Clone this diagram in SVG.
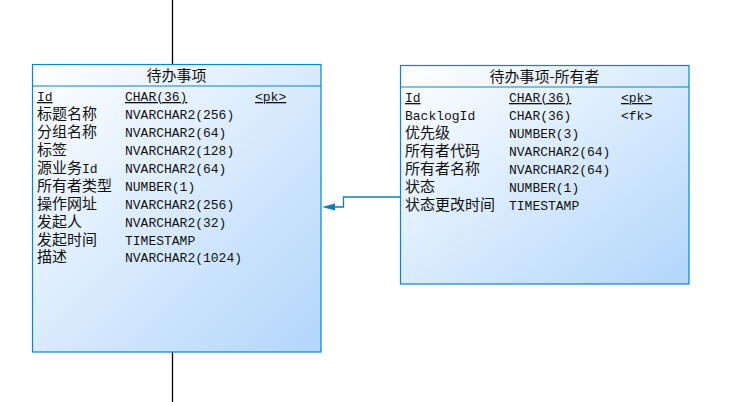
<svg xmlns="http://www.w3.org/2000/svg" width="752" height="402" viewBox="0 0 752 402">
<style>
.box{stroke:#0a84cc;stroke-width:1.2;fill:url(#g)}
.sep{stroke:#0a84cc;stroke-width:1.2}
text{font-family:"Liberation Mono","Noto Sans CJK SC",monospace;font-size:13px;fill:#111}
.cj{font-family:"Noto Sans CJK SC","Liberation Mono",sans-serif;font-size:15px}
.hd{font-family:"Noto Sans CJK SC","Liberation Mono",sans-serif;font-size:15px;text-anchor:middle}
.u{text-decoration:underline}
.conn{stroke:#0a7fc0;stroke-width:1.3;fill:none}
.ext{stroke:#000;stroke-width:1.3}
</style>
<defs>
<linearGradient id="g" x1="0" y1="0" x2="1" y2="1">
<stop offset="0" stop-color="#ffffff"/>
<stop offset="1" stop-color="#b2d6fb"/>
</linearGradient>
</defs>
<g id="connectors">
<line class="ext" x1="172.5" y1="0" x2="172.5" y2="64"/>
<line class="ext" x1="172.5" y1="352" x2="172.5" y2="402"/>
<polyline class="conn" points="400,197 343.5,197 343.5,207 334,207"/>
<polygon points="322,207 335,203.5 335,210.5" fill="#0a7fc0"/>
</g>
<g id="backlog">
<rect class="box" x="32.5" y="64.5" width="288.5" height="287.5"/>
<line class="sep" x1="32.5" y1="86" x2="321" y2="86"/>
<text class="hd" x="176.5" y="81">待办事项</text>
<text x="37" y="101" class="u">Id</text><text x="125" y="101" class="u">CHAR(36)</text><text x="255" y="101" class="u">&lt;pk&gt;</text>
<text class="cj" x="37" y="119">标题名称</text><text x="125" y="119">NVARCHAR2(256)</text>
<text class="cj" x="37" y="137">分组名称</text><text x="125" y="137">NVARCHAR2(64)</text>
<text class="cj" x="37" y="155">标签</text><text x="125" y="155">NVARCHAR2(128)</text>
<text class="cj" x="37" y="173">源业务<tspan style="font-family:'Liberation Mono',monospace;font-size:13px">Id</tspan></text><text x="125" y="173">NVARCHAR2(64)</text>
<text class="cj" x="37" y="190.5">所有者类型</text><text x="125" y="190.5">NUMBER(1)</text>
<text class="cj" x="37" y="208.5">操作网址</text><text x="125" y="208.5">NVARCHAR2(256)</text>
<text class="cj" x="37" y="226.5">发起人</text><text x="125" y="226.5">NVARCHAR2(32)</text>
<text class="cj" x="37" y="244.5">发起时间</text><text x="125" y="244.5">TIMESTAMP</text>
<text class="cj" x="37" y="262">描述</text><text x="125" y="262">NVARCHAR2(1024)</text>
</g>
<g id="owner">
<rect class="box" x="400.5" y="65.5" width="288.5" height="218.5"/>
<line class="sep" x1="400.5" y1="87" x2="689" y2="87"/>
<text class="hd" x="544.5" y="82">待办事项-所有者</text>
<text x="405" y="102" class="u">Id</text><text x="509" y="102" class="u">CHAR(36)</text><text x="621" y="102" class="u">&lt;pk&gt;</text>
<text x="405" y="120">BacklogId</text><text x="509" y="120">CHAR(36)</text><text x="621" y="120">&lt;fk&gt;</text>
<text class="cj" x="405" y="138">优先级</text><text x="509" y="138">NUMBER(3)</text>
<text class="cj" x="405" y="156">所有者代码</text><text x="509" y="156">NVARCHAR2(64)</text>
<text class="cj" x="405" y="174">所有者名称</text><text x="509" y="174">NVARCHAR2(64)</text>
<text class="cj" x="405" y="192">状态</text><text x="509" y="192">NUMBER(1)</text>
<text class="cj" x="405" y="210">状态更改时间</text><text x="509" y="210">TIMESTAMP</text>
</g>
</svg>
